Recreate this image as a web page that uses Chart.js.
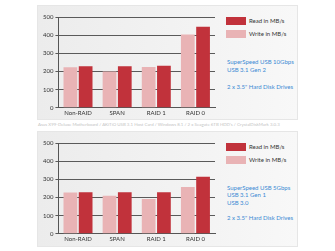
<!DOCTYPE html>
<html>
<head>
<meta charset="utf-8">
<script src="https://cdn.jsdelivr.net/npm/chart.js@4.4.1/dist/chart.umd.min.js"></script>
<style>
  body { margin: 0; background: #ffffff; font-family: Lato, "Open Sans", sans-serif; }
  #page { position: relative; width: 335px; height: 251px; overflow: hidden; }
  .panel { position: absolute; left: 37px; width: 261px;
           background: linear-gradient(to right, #ececec, #f3f3f3 60%, #f8f8f8);
           border: 1px solid #e6e6e6; box-sizing: border-box; }
  .chartbox { position: absolute; left: 37px; width: 182px; }
  .legend { position: absolute; left: 226px; font-size: 6px; color: #333; }
  .legend .item { position: absolute; left: 0; white-space: nowrap; }
  .legend .sw { position: absolute; left: 0; width: 20px; height: 8px; }
  .legend .lb { position: absolute; left: 23px; top: 0; line-height: 8px; }
  .info { position: absolute; left: 227px; font-size: 6px; line-height: 8px; color: #3a8ad4; white-space: nowrap; }
  .caption { position: absolute; left: 38px; top: 122px; width: 260px; font-size: 4.4px; color: #c4c4c4;
             white-space: nowrap; }
</style>
</head>
<body>
<div id="page">
  <div class="panel" style="top:5px;height:115px;"></div>
  <div class="panel" style="top:131px;height:116px;"></div>

  <div class="chartbox" style="top:5px;height:115px;"><canvas id="chartTop"></canvas></div>
  <div class="chartbox" style="top:131px;height:115px;"><canvas id="chartBottom"></canvas></div>

  <div class="legend" style="top:17px;">
    <div class="item" style="top:0;"><div class="sw" style="background:#c1323b;"></div><div class="lb">Read in MB/s</div></div>
    <div class="item" style="top:13px;"><div class="sw" style="background:#e9b3b5;"></div><div class="lb">Write in MB/s</div></div>
  </div>
  <div class="legend" style="top:143px;">
    <div class="item" style="top:0;"><div class="sw" style="background:#c1323b;"></div><div class="lb">Read in MB/s</div></div>
    <div class="item" style="top:13px;"><div class="sw" style="background:#e9b3b5;"></div><div class="lb">Write in MB/s</div></div>
  </div>

  <div class="info" style="top:58px;line-height:8.4px;">SuperSpeed USB 10Gbps<br>USB 3.1 Gen 2<br><br>2 x 3.5" Hard Disk Drives</div>
  <div class="info" style="top:184px;line-height:7.4px;">SuperSpeed USB 5Gbps<br>USB 3.1 Gen 1<br>USB 3.0<br><br>2 x 3.5" Hard Disk Drives</div>

  <div class="caption">Asus X99-Deluxe Motherboard / AKiTiO USB 3.1 Host Card / Windows 8.1 / 2 x Seagate 6TB HDD's / CrystalDiskMark 3.0.3</div>
</div>

<script>
// Chart data
const categories = ['Non-RAID', 'SPAN', 'RAID 1', 'RAID 0'];
const yTicks = [0, 100, 200, 300, 400, 500];

// USB 3.1 Gen 2 (10Gbps)
const gen2Write = [223, 200, 225, 404];
const gen2Read = [229, 229, 231, 446];

// USB 3.1 Gen 1 (5Gbps)
const gen1Write = [227, 210, 192, 258];
const gen1Read = [229, 229, 229, 314];

const readColor = '#c1323b';
const writeColor = '#e9b3b5';

function makeChart(id, writeData, readData) {
    const ctx = document.getElementById(id).getContext('2d');
    return new Chart(ctx, {
        type: 'bar',
        data: {
            labels: categories,
            datasets: [
                {
                    label: 'Write in MB/s',
                    backgroundColor: writeColor,
                    borderWidth: 0,
                    categoryPercentage: 0.78,
                    barPercentage: 0.9,
                    data: writeData
                },
                {
                    label: 'Read in MB/s',
                    backgroundColor: readColor,
                    borderWidth: 0,
                    categoryPercentage: 0.78,
                    barPercentage: 0.9,
                    data: readData
                }
            ]
        },
        options: {
            responsive: true,
            maintainAspectRatio: false,
            animation: false,
            layout: {
                padding: { top: 12, right: 4, left: 4, bottom: 1 }
            },
            plugins: {
                legend: { display: false },
                tooltip: { enabled: false }
            },
            scales: {
                x: {
                    grid: { display: false, drawTicks: false },
                    border: { color: '#555', width: 1 },
                    ticks: {
                        color: '#333',
                        padding: 2,
                        font: { family: 'Lato', size: 6 }
                    }
                },
                y: {
                    min: 0,
                    max: 500,
                    afterBuildTicks: function(axis) {
                        axis.ticks = yTicks.map(v => ({ value: v }));
                    },
                    grid: {
                        color: '#5a5a5a',
                        lineWidth: 1,
                        tickLength: 3
                    },
                    border: { color: '#555', width: 1 },
                    ticks: {
                        color: '#333',
                        padding: 2,
                        font: { family: 'Lato', size: 6 }
                    }
                }
            }
        }
    });
}

makeChart('chartTop', gen2Write, gen2Read);
makeChart('chartBottom', gen1Write, gen1Read);
</script>
</body>
</html>
